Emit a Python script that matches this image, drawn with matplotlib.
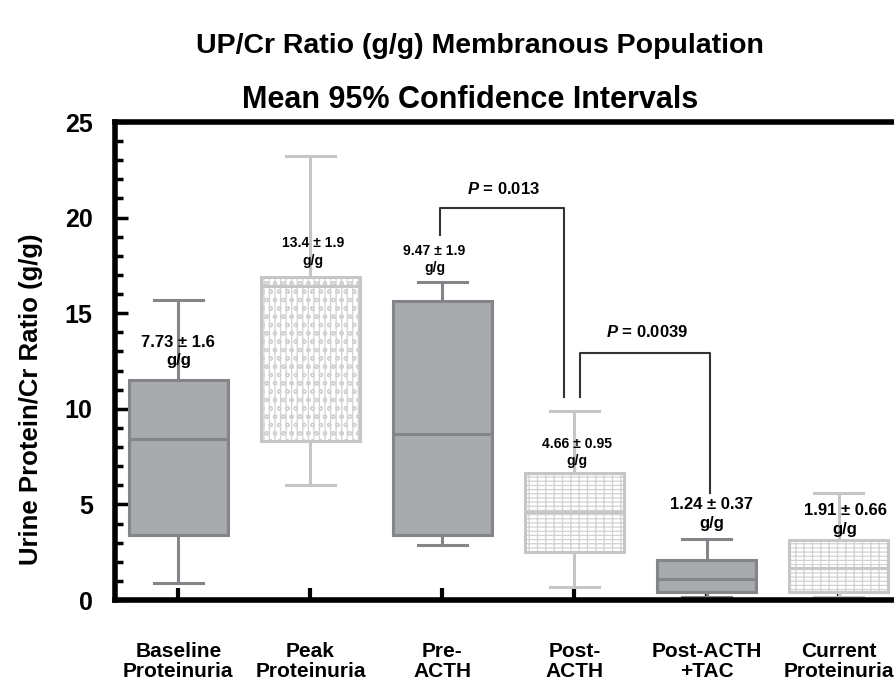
import matplotlib
matplotlib.use('Agg')
import matplotlib.pyplot as plt
from matplotlib.patches import PathPatch
from matplotlib.ticker import MultipleLocator

plt.rcParams['font.family'] = ['Liberation Sans', 'DejaVu Sans']
plt.rcParams['font.weight'] = 'bold'
plt.rcParams['mathtext.fontset'] = 'custom'
plt.rcParams['mathtext.rm'] = 'Liberation Sans:bold'
plt.rcParams['mathtext.it'] = 'Liberation Sans:bold:italic'
plt.rcParams['hatch.linewidth'] = 0.9

# box statistics (g/g)
categories = ['Baseline\nProteinuria', 'Peak\nProteinuria', 'Pre-\nACTH',
              'Post-\nACTH', 'Post-ACTH\n+TAC', 'Current\nProteinuria']
q1 = [3.4, 8.3, 3.4, 2.5, 0.4, 0.4]
medians = [8.4, 16.4, 8.7, 4.6, 1.1, 1.7]
q3 = [11.5, 16.9, 15.65, 6.65, 2.1, 3.15]
whisk_lo = [0.9, 6.0, 2.9, 0.7, 0.15, 0.15]
whisk_hi = [15.7, 23.2, 16.65, 9.9, 3.2, 5.6]

mean_labels = ['7.73 ± 1.6\ng/g', '13.4 ± 1.9\ng/g', '9.47 ± 1.9\ng/g',
               '4.66 ± 0.95\ng/g', '1.24 ± 0.37\ng/g', '1.91 ± 0.66\ng/g']
label_y = [13.0, 18.2, 17.8, 7.7, 4.5, 4.2]
label_dx = [0.0, 0.02, -0.06, 0.02, 0.04, 0.05]
label_size = [12, 10, 10, 10, 12, 12]

# significance brackets
p_texts = ['$P$ = 0.013', '$P$ = 0.0039']
bracket_x = [[1.98, 1.98, 2.92, 2.92], [3.04, 3.04, 4.03, 4.03]]
bracket_y = [[19.1, 20.5, 20.5, 10.6], [10.6, 12.9, 12.9, 5.6]]
p_pos = [(2.46, 21.5), (3.55, 14.0)]

dark_fill = '#a9aaad'
dark_edge = '#848589'
light_edge = '#c6c6c8'
hatch_col = '#d2d2d4'
styles = ['dark', 'dots', 'dark', 'grid', 'dark', 'grid']

fig = plt.figure(figsize=(8.94, 6.82), dpi=100)
ax = fig.add_axes([0.1286, 0.1202, 0.8714, 0.7009])

stats = [dict(med=m, q1=a, q3=b, whislo=lo, whishi=hi)
         for m, a, b, lo, hi in zip(medians, q1, q3, whisk_lo, whisk_hi)]
bp = ax.bxp(stats, positions=range(len(stats)), widths=0.75, capwidths=0.37,
            patch_artist=True, showfliers=False, manage_ticks=False)

for i, st in enumerate(styles):
    box = bp['boxes'][i]
    if st == 'dark':
        col = dark_edge
        box.set(facecolor=dark_fill, edgecolor=dark_edge, linewidth=2.2)
    else:
        col = light_edge
        # hatch takes the edge colour, so draw the outline as a second patch
        box.set(facecolor='white', edgecolor=hatch_col, linewidth=0,
                hatch='|||oo' if st == 'dots' else '||----')
        ax.add_patch(PathPatch(box.get_path(), facecolor='none',
                               edgecolor=light_edge, linewidth=2.2,
                               zorder=box.get_zorder()))
    bp['medians'][i].set(color=col, linewidth=2.2)
    for ln in bp['whiskers'][2 * i:2 * i + 2] + bp['caps'][2 * i:2 * i + 2]:
        ln.set(color=col, linewidth=2.2)

for i, txt in enumerate(mean_labels):
    ax.text(i + label_dx[i], label_y[i], txt, ha='center', va='center',
            fontsize=label_size[i], fontweight='bold', linespacing=1.3, zorder=5)

for bx, by in zip(bracket_x, bracket_y):
    ax.plot(bx, by, color='#333333', linewidth=1.5, zorder=4)
for (px, py), t in zip(p_pos, p_texts):
    ax.text(px, py, t, ha='center', va='center', fontsize=12, fontweight='bold')

ax.set_xlim(-0.48, 5.42)
ax.set_ylim(0, 25)
ax.set_xticks(range(len(categories)))
ax.set_xticklabels(categories, fontsize=15, fontweight='bold', linespacing=1.1)
ax.yaxis.set_major_locator(MultipleLocator(5))
ax.yaxis.set_minor_locator(MultipleLocator(1))
ax.tick_params(axis='x', direction='in', length=9, width=3, pad=30)
ax.tick_params(axis='y', which='major', direction='in', length=9, width=2.5,
               pad=16, labelsize=18)
ax.tick_params(axis='y', which='minor', direction='in', length=6, width=2.5)
for lab in ax.get_yticklabels():
    lab.set_fontweight('bold')

for side in ['left', 'top', 'bottom']:
    ax.spines[side].set_linewidth(4)
ax.spines['right'].set_visible(False)

ax.set_ylabel('Urine Protein/Cr Ratio (g/g)', fontsize=18.5, fontweight='bold')
ax.yaxis.set_label_coords(-0.093, 0.42)

fig.text(0.537, 0.933, 'UP/Cr Ratio (g/g) Membranous Population',
         ha='center', va='center', fontsize=20.5, fontweight='bold')
fig.text(0.526, 0.853, 'Mean 95% Confidence Intervals',
         ha='center', va='center', fontsize=22, fontweight='bold')

fig.savefig('out.png', dpi=100)
